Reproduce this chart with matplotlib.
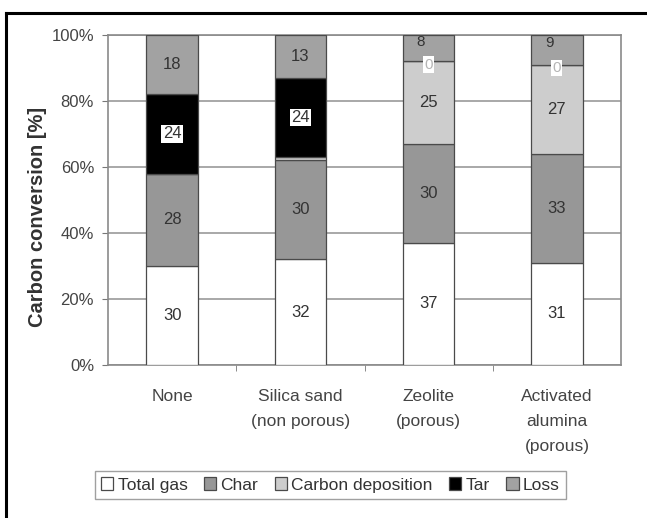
import matplotlib
matplotlib.use("Agg")
import matplotlib.pyplot as plt
from matplotlib.lines import Line2D
from matplotlib.patches import Patch
import numpy as np

plt.rcParams['font.family'] = ['Liberation Sans', 'DejaVu Sans']

categories = ["None", "Silica sand\n(non porous)", "Zeolite\n(porous)", "Activated\nalumina\n(porous)"]
total_gas = [30, 32, 37, 31]
char = [28, 30, 30, 33]
carbon_deposition = [0, 1, 25, 27]
tar = [24, 24, 0, 0]
loss = [18, 13, 8, 9]

series = [
    ("Total gas", total_gas, "#ffffff"),
    ("Char", char, "#979797"),
    ("Carbon deposition", carbon_deposition, "#cdcdcd"),
    ("Tar", tar, "#000000"),
    ("Loss", loss, "#a2a2a2"),
]

fig = plt.figure(figsize=(6.47, 5.18), dpi=100)
W, H = 647, 518
ax = fig.add_axes([108 / W, 1 - 365 / H, (621 - 108) / W, (365 - 35) / H])

x = np.arange(len(categories))
width = 0.40
bottom = np.zeros(len(categories))
for name, vals, color in series:
    vals = np.array(vals, dtype=float)
    ax.bar(x, vals, width, bottom=bottom, color=color, edgecolor="#4a4a4a",
           linewidth=0.9, zorder=3, label=name)
    for i, v in enumerate(vals):
        # thin carbon-deposition slivers carry no label
        if name == "Carbon deposition" and v < 5:
            continue
        yc = bottom[i] + v / 2
        xc = x[i]
        kw = dict(ha="center", va="center", fontsize=12, color="#333333", zorder=5)
        if name == "Tar":
            kw["bbox"] = dict(boxstyle="square,pad=0.08", facecolor="white", edgecolor="none")
            if v == 0:
                kw["color"] = "#b5b5b5"
                kw["fontsize"] = 11
                yc = bottom[i] - 1.0
        if name == "Loss" and v < 10:
            # small top segment: nudge the label up and left, clear of the tar "0"
            kw["fontsize"] = 11
            yc = bottom[i] + v * 0.72
            xc = x[i] - 0.06
        ax.text(xc, yc, f"{int(v)}", **kw)
    bottom += vals

ax.set_ylim(0, 100)
ax.set_xlim(-0.5, len(categories) - 0.5)
ax.set_yticks(np.arange(0, 101, 20))
ax.set_yticklabels([f"{v}%" for v in range(0, 101, 20)], fontsize=12, color="#444444")
ax.yaxis.grid(True, color="#a8a8a8", linewidth=1.4, zorder=0)
ax.set_axisbelow(True)

ax.set_xticks(x)
ax.set_xticklabels(categories, fontsize=12.5, color="#444444", linespacing=1.85, va="top")
ax.set_xticks(np.arange(0.5, len(categories) - 1, 1.0), minor=True)
ax.tick_params(axis="x", which="major", length=0, pad=17)
ax.tick_params(axis="x", which="minor", length=4, color="#777777")
ax.tick_params(axis="y", length=4, color="#777777", pad=6)

for s in ax.spines.values():
    s.set_color("#8a8a8a")
    s.set_linewidth(1.2)

ax.set_ylabel("Carbon conversion [%]", fontsize=14.5, fontweight="bold", color="#333333")
ax.yaxis.set_label_coords((47 - 108) / 513, (365 - 217) / 330)

handles = [Patch(facecolor=c, edgecolor="#4a4a4a", linewidth=0.9, label=n) for n, _, c in series]
leg = fig.legend(handles=handles, loc="center", bbox_to_anchor=(330.5 / W, 1 - 485 / H),
                 ncol=5, fontsize=12.5, frameon=True, fancybox=False, edgecolor="#888888",
                 handlelength=0.7, handleheight=0.7, handletextpad=0.25, columnspacing=0.95,
                 borderpad=0.35)
for t in leg.get_texts():
    t.set_color("#333333")

# outer frame (top and left edges)
fig.add_artist(Line2D([6 / W, 6 / W], [0, 1 - 13 / H], color="black", linewidth=2.2,
                      transform=fig.transFigure))
fig.add_artist(Line2D([6 / W, 1], [1 - 13 / H, 1 - 13 / H], color="black", linewidth=2.2,
                      transform=fig.transFigure))

fig.savefig("out.png", dpi=100)
